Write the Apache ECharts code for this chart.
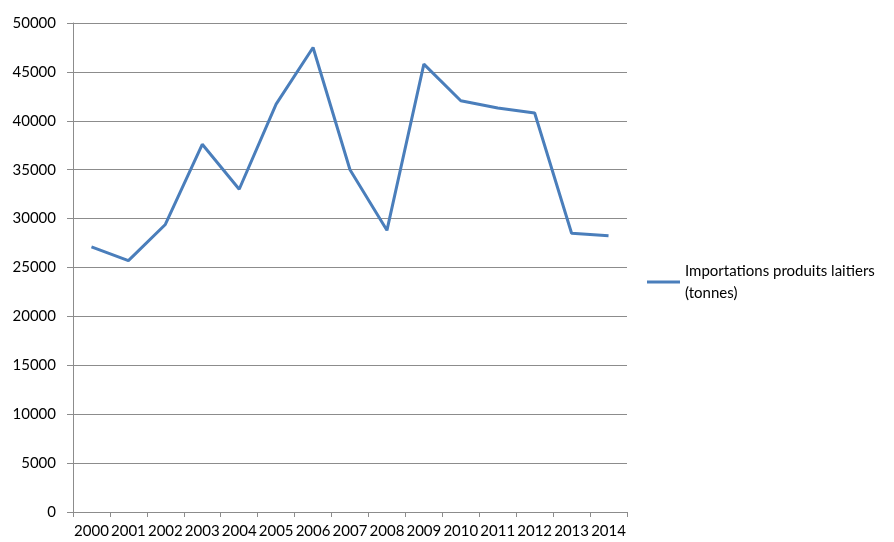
<!DOCTYPE html>
<html>
<head>
<meta charset="utf-8">
<script src="https://cdn.jsdelivr.net/npm/echarts@6/dist/echarts.min.js"></script>
<style>
  html, body { margin: 0; padding: 0; background: #fff; }
  #chart { width: 894px; height: 542px; }
</style>
</head>
<body>
<div id="chart"></div>
<script>
// Years on the horizontal axis
const years = ['2000', '2001', '2002', '2003', '2004', '2005', '2006', '2007',
               '2008', '2009', '2010', '2011', '2012', '2013', '2014'];

// Dairy product imports, in tonnes
const imports = [27100, 25700, 29400, 37600, 33000, 41700, 47500, 35000,
                 28800, 45800, 42050, 41300, 40800, 28500, 28250];

const seriesName = 'Importations produits laitiers (tonnes)';

const FONT = 'Lato, "Open Sans", sans-serif';
const GRID_COLOR = '#8c8c8c';

const chart = echarts.init(document.getElementById('chart'), null, { renderer: 'canvas' });

chart.setOption({
  animation: false,
  backgroundColor: '#ffffff',
  textStyle: { fontFamily: FONT },
  grid: { left: 73, right: 267, top: 23, bottom: 30, containLabel: false },
  legend: {
    left: 642,
    top: 255,
    orient: 'vertical',
    itemWidth: 33,
    itemHeight: 3,
    icon: 'rect',
    formatter: () => 'Importations produits laitiers\n(tonnes)',
    textStyle: { fontFamily: FONT, fontSize: 15, color: '#000', lineHeight: 22 },
    data: [seriesName]
  },
  xAxis: {
    type: 'category',
    data: years,
    boundaryGap: true,
    axisLine: { lineStyle: { color: GRID_COLOR, width: 1 } },
    axisTick: { show: true, length: 5, alignWithLabel: false, lineStyle: { color: GRID_COLOR } },
    axisLabel: { fontFamily: FONT, fontSize: 15, color: '#000', margin: 12, interval: 0 },
    splitLine: { show: false }
  },
  yAxis: {
    type: 'value',
    min: 0,
    max: 50000,
    interval: 5000,
    axisLine: { show: true, lineStyle: { color: GRID_COLOR, width: 1 } },
    axisTick: { show: true, length: 6, lineStyle: { color: GRID_COLOR } },
    axisLabel: { fontFamily: FONT, fontSize: 15, color: '#000', margin: 17, formatter: v => String(v) },
    splitLine: { show: true, lineStyle: { color: GRID_COLOR, width: 1 } }
  },
  series: [{
    name: seriesName,
    type: 'line',
    data: imports,
    symbol: 'none',
    smooth: false,
    lineStyle: { color: '#4a7ebb', width: 3 },
    itemStyle: { color: '#4a7ebb' }
  }]
});
</script>
</body>
</html>
